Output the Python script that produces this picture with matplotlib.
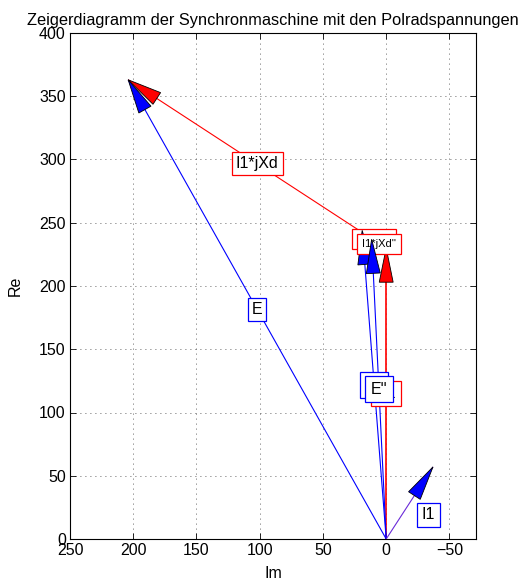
import numpy as np
import matplotlib
matplotlib.use('Agg')
import matplotlib.pyplot as plt
from matplotlib.patches import Polygon

plt.rcParams['font.family'] = ['Liberation Sans', 'DejaVu Sans']

# Zeiger (Im, Re)
u1_im, u1_re = 0.0, 230.0
e_im, e_re = 204.0, 363.0
e2_im = [19.0, 11.5]
e2_re = [244.0, 237.0]
i1_im, i1_re = -37.0, 57.0
i1_label = (-33.5, 19.0)

xticks = [250, 200, 150, 100, 50, 0, -50]
yticks = [0, 50, 100, 150, 200, 250, 300, 350, 400]

HL = 27.0   # Pfeilspitze Laenge
HW = 5.5    # halbe Breite
FS = 11.5


def pfeil(ax, x0, y0, x1, y1, color, lw, zl, zh, kopf=True, kcolor=None):
    ax.plot([x0, x1], [y0, y1], color=color, lw=lw, zorder=zl, solid_capstyle='butt')
    if not kopf:
        return
    dx, dy = x1 - x0, y1 - y0
    n = np.hypot(dx, dy)
    ux, uy = dx / n, dy / n
    bx, by = x1 - ux * HL, y1 - uy * HL
    px, py = -uy * HW, ux * HW
    pts = [(x1, y1), (bx + px, by + py), (bx - px, by - py)]
    ax.add_patch(Polygon(pts, closed=True, fc=kcolor or color, ec='k', lw=0.6, zorder=zh))


def label(ax, x, y, s, color, z, size=FS, boxonly=False, pad=0.3):
    ax.text(x, y, s, ha='center', va='center', fontsize=size, zorder=z,
            color=(0, 0, 0, 0) if boxonly else 'k',
            bbox=dict(boxstyle='square,pad=%g' % pad, fc='white', ec=color, lw=0.9))


fig = plt.figure(figsize=(5.22, 5.83), dpi=100)
ax = fig.add_axes([70 / 522, 44 / 583, 406 / 522, 506 / 583])

# U1
pfeil(ax, 0, 0, u1_im, u1_re, 'red', 1.2, 2, 3.2)
label(ax, u1_im / 2, u1_re / 2, 'U1', 'red', 3)

# E und I1*jXd
pfeil(ax, 0, 0, e_im, e_re, 'blue', 0.8, 2, 3.3)
pfeil(ax, u1_im, u1_re, e_im, e_re, 'red', 0.8, 2, 3.4)
label(ax, e_im / 2, e_re / 2, 'E', 'blue', 3, pad=0.25)
label(ax, (u1_im + e_im) / 2, (u1_re + e_re) / 2, 'I1*jXd', 'red', 3, pad=0.25)

# E'' und I1*jXd''
for k in range(len(e2_im)):
    zb = 3.5 + k
    pfeil(ax, 0, 0, e2_im[k], e2_re[k], 'blue', 0.8, 2, zb + 0.3)
    pfeil(ax, u1_im, u1_re, e2_im[k], e2_re[k], 'red', 0.8, 2, zb, kopf=False)
    last = k == len(e2_im) - 1
    label(ax, e2_im[k] / 2, e2_re[k] / 2, "E''", 'blue', zb, boxonly=last, pad=0.35)
    label(ax, (u1_im + e2_im[k]) / 2, (u1_re + e2_re[k]) / 2, "I1*jXd''", 'red', zb,
          size=8, boxonly=last, pad=0.45)
    if last:
        ax.text(e2_im[k] / 2, e2_re[k] / 2, "E''", ha='center', va='center',
                fontsize=FS, zorder=6)
        ax.text((u1_im + e2_im[k]) / 2, (u1_re + e2_re[k]) / 2, "I1*jXd''",
                ha='center', va='center', fontsize=8, zorder=6)

# I1
pfeil(ax, 0, 0, i1_im, i1_re, '#6a2ad8', 0.8, 2, 5.5, kcolor='blue')
label(ax, i1_label[0], i1_label[1], 'I1', 'blue', 5)

ax.set_xlim(250, -71)
ax.set_ylim(0, 400)
ax.set_xticks(xticks)
ax.set_yticks(yticks)
ax.tick_params(direction='in', length=4, width=0.6, top=True, right=True,
               labelsize=FS, pad=3)
ax.grid(True, color='#333333', linestyle=(0, (1, 5)), lw=0.6)
for s in ax.spines.values():
    s.set_linewidth(0.8)
ax.set_xlabel('Im', fontsize=FS, labelpad=6)
ax.set_ylabel('Re', fontsize=FS, labelpad=12)
ax.set_title('Zeigerdiagramm der Synchronmaschine mit den Polradspannungen',
             fontsize=11.8, pad=6)

fig.savefig('out.png', dpi=100)
